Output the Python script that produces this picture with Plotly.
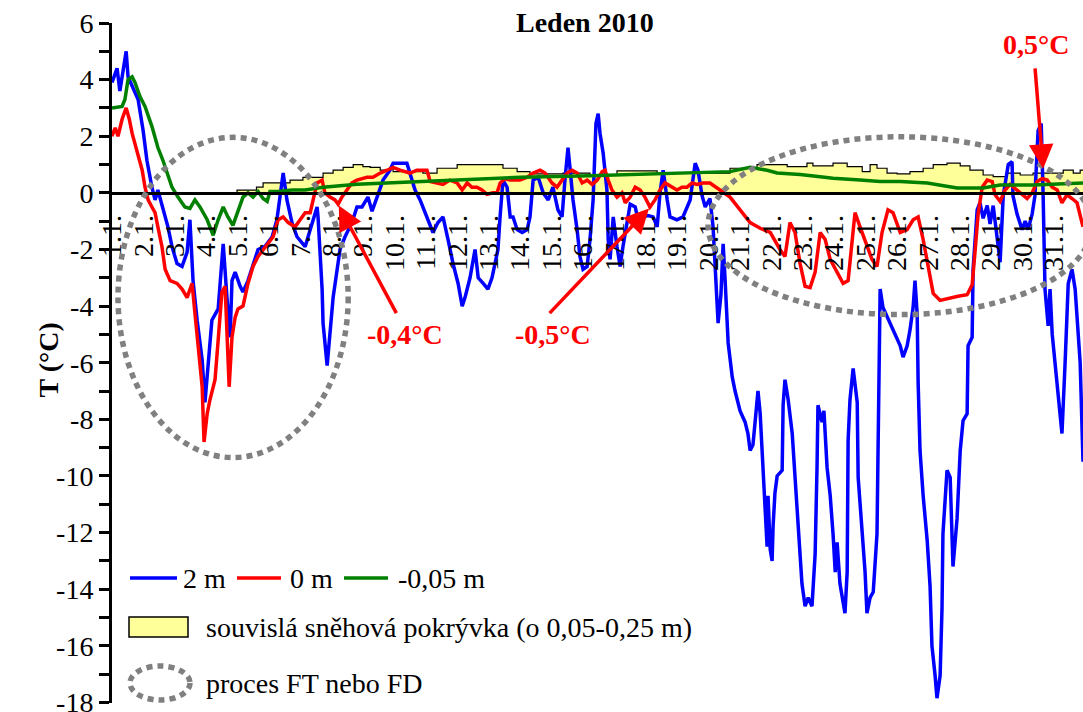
import plotly.graph_objects as go

# ---- Leden 2010: teplota na stanici, tři úrovně ----
# čas = den v měsíci (desetinně), teplota ve °C

t_2m = [1.00, 1.16, 1.25, 1.45, 1.51, 1.64, 1.83, 1.99, 2.11, 2.27, 2.37, 2.46, 2.62, 2.78, 2.91,
        3.07, 3.23, 3.39, 3.48, 3.58, 3.71, 3.87, 3.96, 4.18, 4.38, 4.54, 4.66, 4.76, 4.82, 4.92,
        5.08, 5.17, 5.33, 5.49, 5.65, 5.87, 6.10, 6.25, 6.35, 6.45, 6.57, 6.73, 6.89, 7.15, 7.31,
        7.53, 7.56, 7.69, 7.72, 7.85, 8.04, 8.26, 8.42, 8.64, 8.80, 8.96, 9.15, 9.28, 9.44, 9.63,
        9.85, 9.95, 10.39, 10.49, 10.65, 10.81, 11.03, 11.22, 11.38, 11.54, 11.70, 11.86, 12.02,
        12.15, 12.24, 12.40, 12.56, 12.66, 12.82, 12.97, 13.10, 13.20, 13.29, 13.36, 13.45, 13.58,
        13.68, 13.77, 13.90, 14.06, 14.22, 14.31, 14.41, 14.57, 14.73, 14.89, 15.04, 15.20, 15.33,
        15.43, 15.52, 15.59, 15.68, 15.81, 15.90, 16.00, 16.13, 16.22, 16.32, 16.41, 16.48, 16.54,
        16.64, 16.76, 16.80, 16.86, 16.96, 17.08, 17.18, 17.27, 17.40, 17.50, 17.66, 17.75, 17.91,
        18.07, 18.23, 18.36, 18.45, 18.55, 18.68, 18.77, 18.99, 19.18, 19.41, 19.57, 19.66, 19.79,
        19.89, 20.04, 20.14, 20.20, 20.27, 20.30, 20.39, 20.46, 20.52, 20.59, 20.62, 20.75, 20.84,
        21.00, 21.16, 21.25, 21.32, 21.41, 21.48, 21.57, 21.64, 21.70, 21.73, 21.80, 21.86, 21.89,
        21.96, 22.02, 22.05, 22.11, 22.18, 22.34, 22.37, 22.43, 22.53, 22.66, 22.75, 22.85, 22.97,
        23.07, 23.17, 23.29, 23.39, 23.45, 23.48, 23.61, 23.67, 23.77, 23.87, 23.96, 24.03, 24.09,
        24.18, 24.34, 24.41, 24.44, 24.50, 24.60, 24.73, 24.76, 24.89, 24.98, 25.04, 25.14, 25.24,
        25.36, 25.39, 25.46, 25.55, 25.78, 26.00, 26.10, 26.19, 26.32, 26.41, 26.51, 26.57, 26.64,
        26.67, 26.73, 26.83, 26.96, 27.05, 27.11, 27.21, 27.27, 27.37, 27.43, 27.46, 27.59, 27.69,
        27.78, 27.91, 28.01, 28.10, 28.23, 28.26, 28.39, 28.42, 28.55, 28.64, 28.74, 28.87, 28.96,
        29.06, 29.18, 29.28, 29.38, 29.54, 29.66, 29.69, 29.82, 29.98, 30.08, 30.17, 30.30, 30.39,
        30.49, 30.59, 30.65, 30.71, 30.81, 30.87, 30.94, 31.03, 31.13, 31.25, 31.35, 31.45, 31.57,
        31.67, 31.83, 31.92]
T_2m = [3.9, 4.4, 3.6, 5.0, 4.1, 3.75, 3.3, 2.2, 1.15, 0.2, -0.25, 0.1, -0.5, -1.2, -1.9,
        -2.5, -2.6, -2.1, -0.95, -3.1, -4.5, -5.9, -7.4, -4.5, -4.1, -1.8, -3.7, -5.1, -3.1, -2.8,
        -3.3, -3.5, -3.1, -2.5, -2.0, -1.9, -1.55, -0.95, 0.0, 0.7, -0.25, -1.05, -1.55, -1.9, -1.3,
        -0.5, -0.85, -3.4, -4.6, -6.1, -3.7, -2.0, -1.55, -1.05, -0.5, -0.5, -0.15, -0.65, -0.15, 0.45,
        0.8, 1.05, 1.05, 0.7, 0.1, -0.25, -0.85, -1.4, -1.05, -0.85, -1.65, -2.5, -3.2,
        -4.0, -3.7, -3.0, -2.0, -3.0, -3.2, -3.4, -3.0, -2.5, -2.0, -0.8, 0.45, 0.2,
        -0.85, -0.85, -1.3, -1.4, -1.3, -0.85, 0.45, 0.55, 0.0, -0.25, 0.2, -0.6, -0.85,
        0.55, 1.6, 0.8, -0.25, -1.3, -2.25, -2.7, -2.6, -1.65, -0.25, 2.45, 2.8, 2.1,
        1.4, 0.1, -1.65, -2.35, -0.85, -1.9, -2.6, -1.9, -0.95, -0.4, -0.5, -0.95, -0.85,
        -0.8, -0.85, -1.2, 0.0, 0.8, -0.25, -0.85, -0.95, -0.85, -0.25, 1.05, 0.8, -0.1,
        -0.5, -0.2, -1.2, -2.5, -3.8, -4.6, -3.6, -1.8, -3.0, -4.35, -5.3, -6.5, -7.0,
        -7.7, -8.1, -8.5, -9.1, -8.9, -7.95, -7.0, -7.8, -9.1, -10.2, -11.4, -12.5, -10.7,
        -12.6, -13.0, -11.8, -10.6, -10.0, -9.8, -7.5, -6.6, -7.3, -8.5, -10.1, -11.8, -13.8,
        -14.6, -14.3, -14.6, -12.75, -9.7, -7.5, -8.1, -7.7, -9.7, -10.7, -12.05, -13.4, -12.35,
        -13.8, -14.85, -13.4, -8.75, -7.3, -6.2, -7.4, -10.05, -12.05, -13.4, -14.85, -14.3, -14.1,
        -12.05, -9.4, -3.4, -4.05, -4.6, -5.1, -5.4, -5.8, -5.4, -4.85, -4.05, -3.1, -4.3,
        -6.7, -9.1, -10.7, -12.3, -13.9, -16.0, -17.05, -17.85, -17.05, -14.7, -12.05, -9.8, -10.05,
        -13.2, -11.5, -9.1, -8.05, -7.8, -5.4, -5.1, -2.7, -0.6, -0.35, -0.9, -0.45, -1.1,
        -0.45, -1.65, -2.45, -0.1, 1.0, 1.1, -0.1, -0.75, -1.3, -1.0, -1.3, -0.75, -0.1,
        2.2, 2.45, -0.05, -3.4, -4.7, -3.4, -5.0, -6.0, -7.0, -8.5, -6.0, -3.2, -2.7,
        -3.4, -6.0, -9.5]

t_0m = [1.00, 1.10, 1.19, 1.32, 1.45, 1.55, 1.64, 1.80, 1.96, 2.05, 2.15, 2.27, 2.37, 2.46, 2.59,
        2.69, 2.85, 3.07, 3.23, 3.39, 3.55, 3.64, 3.74, 3.87, 3.93, 4.03, 4.12, 4.28, 4.38, 4.50,
        4.60, 4.69, 4.73, 4.82, 4.92, 5.01, 5.17, 5.33, 5.49, 5.65, 5.81, 5.97, 6.13, 6.29, 6.45,
        6.61, 6.83, 6.99, 7.15, 7.31, 7.40, 7.53, 7.69, 7.78, 7.94, 8.10, 8.20, 8.32, 8.48, 8.64,
        8.80, 9.12, 9.31, 9.54, 9.76, 9.95, 10.17, 10.49, 10.71, 11.03, 11.13, 11.35, 11.54, 11.76,
        11.99, 12.15, 12.31, 12.46, 12.62, 12.78, 12.94, 13.13, 13.26, 13.36, 13.52, 13.68, 13.99,
        14.22, 14.41, 14.63, 14.79, 15.01, 15.17, 15.33, 15.49, 15.65, 15.81, 15.97, 16.13, 16.29,
        16.45, 16.61, 16.70, 16.80, 16.92, 17.08, 17.24, 17.34, 17.50, 17.66, 17.82, 17.97, 18.13,
        18.29, 18.45, 18.61, 18.83, 18.99, 19.15, 19.31, 19.47, 19.63, 19.82, 20.04, 20.36, 20.68,
        21.00, 21.32, 21.64, 21.96, 22.27, 22.43, 22.59, 22.75, 22.91, 23.07, 23.23, 23.39, 23.55,
        23.71, 23.87, 24.09, 24.28, 24.44, 24.66, 24.82, 25.04, 25.20, 25.36, 25.52, 25.71, 25.87,
        26.10, 26.32, 26.51, 26.67, 26.83, 26.99, 27.15, 27.37, 27.69, 27.94, 28.23, 28.39, 28.48,
        28.58, 28.71, 28.87, 29.03, 29.12, 29.28, 29.44, 29.60, 29.82, 29.98, 30.14, 30.30, 30.46,
        30.62, 30.78, 30.94, 31.10, 31.25, 31.41, 31.57, 31.73, 31.92]
T_0m = [2.0, 2.3, 2.0, 2.6, 3.0, 2.6, 2.1, 1.5, 0.8, 0.2, -0.25, -0.5, -0.7, -1.2, -1.9,
        -2.7, -3.1, -3.2, -3.4, -3.7, -3.2, -4.25, -5.4, -6.85, -8.8, -7.8, -7.3, -6.6, -5.2, -3.5,
        -3.3, -5.65, -6.85, -5.1, -4.4, -4.1, -4.0, -3.2, -2.6, -2.25, -2.0, -1.75, -1.55, -0.95, -0.85,
        -1.05, -1.2, -0.95, -0.7, -0.7, -0.25, 0.35, 0.45, 0.0, -0.15, -0.25, -0.4, -0.15, 0.1, 0.35,
        0.45, 0.55, 0.55, 0.7, 0.8, 0.9, 0.8, 0.7, 0.8, 0.8, 0.4, 0.35, 0.3, 0.45,
        0.35, 0.1, 0.35, 0.2, 0.2, 0.1, -0.05, 0.0, 0.0, 0.35, 0.5, 0.45, 0.45,
        0.55, 0.7, 0.8, 0.7, 0.35, 0.2, 0.45, 0.7, 0.8, 0.7, 0.35, 0.45, 0.3,
        0.45, 0.75, 0.8, 0.45, 0.1, -0.15, 0.0, -0.35, -0.15, 0.2, 0.1, -0.15, -0.5,
        -0.25, 0.1, 0.35, 0.2, 0.1, 0.2, 0.2, 0.35, 0.3, 0.35, 0.35, 0.1, -0.15,
        -0.6, -1.05, -1.25, -1.4, -2.0, -2.25, -1.05, -1.4, -2.5, -3.3, -3.35, -2.8, -1.4,
        -1.65, -2.35, -2.8, -3.2, -3.1, -0.7, -1.2, -1.9, -2.35, -2.6, -1.4, -0.6, -0.7,
        -1.4, -1.3, -0.95, -0.85, -1.65, -2.6, -3.55, -3.8, -3.7, -3.65, -3.6, -3.25, -2.1,
        -0.75, 0.2, 0.45, 0.4, -0.07, -0.3, 0.1, 0.3, 0.1, -0.07, -0.2, 0.0, 0.4,
        0.5, 0.45, 0.2, 0.1, -0.35, -0.07, -0.2, -0.35, -1.2]

t_m005 = [1.00, 1.32, 1.41, 1.51, 1.64, 1.73, 1.89, 2.05, 2.27, 2.46, 2.62, 2.75, 2.91, 3.10, 3.32,
          3.48, 3.64, 3.80, 4.03, 4.22, 4.38, 4.54, 4.69, 4.85, 5.01, 5.17, 5.33, 5.49, 5.65, 5.81,
          5.94, 6.03, 6.29, 6.73, 7.15, 7.72, 8.80, 9.85, 10.90, 11.99, 13.36, 14.00, 16.22, 18.00,
          19.73, 20.68, 21.32, 21.86, 22.18, 22.91, 23.55, 23.96, 24.82, 25.46, 26.10, 26.96, 27.91,
          28.74, 29.28, 30.33, 31.92]
T_m005 = [3.0, 3.05, 3.3, 4.0, 4.1, 3.9, 3.4, 3.05, 2.35, 1.6, 1.15, 0.7, 0.2, -0.15, -0.5,
          -0.55, -0.25, -0.5, -0.95, -1.5, -0.95, -0.5, -0.85, -1.15, -0.6, -0.15, 0.0, -0.15, 0.05, -0.2,
          -0.3, 0.05, 0.05, 0.1, 0.1, 0.2, 0.3, 0.35, 0.4, 0.45, 0.5, 0.55, 0.6, 0.65,
          0.7, 0.75, 0.9, 0.8, 0.7, 0.65, 0.57, 0.52, 0.45, 0.4, 0.4, 0.35, 0.17,
          0.17, 0.28, 0.28, 0.35]

# souvislá sněhová pokrývka (schodovitý průběh)
t_snih = [4.98, 4.98, 5.60, 5.81, 6.67, 7.08, 7.72, 8.04, 8.36, 8.68, 8.99, 9.22, 9.54, 9.85, 9.95,
          10.90, 11.35, 11.99, 13.45, 13.90, 14.31, 15.36, 16.22, 17.08, 18.36, 20.68, 21.54, 22.50,
          23.13, 23.32, 23.96, 24.41, 24.89, 25.14, 25.36, 25.68, 26.00, 26.41, 26.83, 27.15, 27.59,
          28.01, 28.32, 28.74, 29.06, 29.50, 29.92, 30.33, 31.29, 31.61, 31.83, 31.92]
h_snih = [0.0, 0.1, 0.2, 0.35, 0.45, 0.55, 0.7, 0.8, 0.9, 1.0, 0.93, 0.9, 0.8, 0.9, 0.75,
          0.7, 0.87, 1.0, 0.87, 0.75, 0.67, 0.7, 0.63, 0.78, 0.7, 0.87, 1.0, 0.93,
          1.05, 0.95, 1.05, 0.93, 0.75, 1.0, 0.87, 0.7, 0.67, 0.75, 0.87, 1.0, 1.05,
          0.95, 0.8, 0.63, 0.57, 0.7, 0.63, 0.7, 0.8, 0.7, 0.8, 0.8]

# popisky os
dny = list(range(1, 32))
popisky_dnu = [f"{d}.1." for d in dny]
y_hodnoty = list(range(-18, 7, 2))
y_popisky = [str(v) for v in y_hodnoty]          # spojovník místo typografického minus
y_vedlejsi = list(range(-17, 7, 2))

# oblasti procesu FT/FD (den od-do, teplota od-do)
oblasti = [(1.19, 8.52, -9.35, 1.96), (19.98, 32.2, -4.3, 1.98)]

# šipky: (hrot den, hrot T, konec den, konec T, text den, text T, text)
sipky = [(8.22, -0.45, 10.08, -4.3, 10.33, -5.0, "-0,4°C"),
         (18.10, -0.55, 14.89, -4.3, 15.04, -5.0, "-0,5°C"),
         (30.65, 0.85, 30.39, 4.45, 30.42, 5.25, "0,5°C")]

FONT = "Liberation Serif"
MODRA, CERVENA, ZELENA, SEDA, ZLUTA = "#0000FF", "#FF0000", "#008000", "#808080", "#FFFF99"

fig = go.Figure()
fig.add_trace(go.Scatter(x=t_snih, y=h_snih, mode="lines", line=dict(shape="hv", color="black", width=1.2),
                         fill="tozeroy", fillcolor=ZLUTA, hoverinfo="skip"))
fig.add_trace(go.Scatter(x=t_2m, y=T_2m, mode="lines", line=dict(color=MODRA, width=3.5), name="2 m"))
fig.add_trace(go.Scatter(x=t_0m, y=T_0m, mode="lines", line=dict(color=CERVENA, width=3.5), name="0 m"))
fig.add_trace(go.Scatter(x=t_m005, y=T_m005, mode="lines", line=dict(color=ZELENA, width=3.5), name="-0,05 m"))

for x0, x1, y0, y1 in oblasti:
    fig.add_shape(type="circle", xref="x", yref="y", x0=x0, x1=x1, y0=y0, y1=y1,
                  line=dict(color=SEDA, width=5.5, dash="6px,5px"), layer="above")

for xh, yh, xk, yk, xt, yt, txt in sipky:
    fig.add_annotation(x=xh, y=yh, ax=xk, ay=yk, xref="x", yref="y", axref="x", ayref="y",
                       text="", showarrow=True, arrowhead=2, arrowsize=1.4, arrowwidth=3.5,
                       arrowcolor=CERVENA)
    fig.add_annotation(x=xt, y=yt, xref="x", yref="y", text=f"<b>{txt}</b>", showarrow=False,
                       font=dict(family=FONT, size=28, color=CERVENA))

# plocha grafu: x 112..1083 px, y 23..703 px
W, H, L, T, B = 1083, 712, 112, 23, 9
PW, PH = W - L, H - T - B


def px(x):
    return (x - L) / PW


def py(y):
    return (H - B - y) / PH


# legenda
radek1 = 578
for x0, x1, barva, text, xt in [(130, 177, MODRA, "2 m", 181), (237, 281, CERVENA, "0 m", 288),
                                (344, 388, ZELENA, "-0,05 m", 396)]:
    fig.add_shape(type="line", xref="paper", yref="paper", x0=px(x0), x1=px(x1),
                  y0=py(radek1), y1=py(radek1), line=dict(color=barva, width=3.5))
    fig.add_annotation(x=px(xt), y=py(radek1), xref="paper", yref="paper", text=text, showarrow=False,
                       xanchor="left", yanchor="middle", font=dict(family=FONT, size=28, color="black"))
fig.add_shape(type="rect", xref="paper", yref="paper", x0=px(129), x1=px(188), y0=py(637), y1=py(617),
              fillcolor=ZLUTA, line=dict(color="black", width=1.5))
fig.add_annotation(x=px(204), y=py(627), xref="paper", yref="paper",
                   text="souvislá sněhová pokrývka (o 0,05-0,25 m)", showarrow=False,
                   xanchor="left", yanchor="middle", font=dict(family=FONT, size=28, color="black"))
fig.add_shape(type="circle", xref="paper", yref="paper", x0=px(130), x1=px(190), y0=py(700), y1=py(666),
              line=dict(color=SEDA, width=5.5, dash="6px,5px"))
fig.add_annotation(x=px(204), y=py(683), xref="paper", yref="paper", text="proces FT nebo FD",
                   showarrow=False, xanchor="left", yanchor="middle",
                   font=dict(family=FONT, size=28, color="black"))

# nadpis a popis osy y
fig.add_annotation(x=px(585), y=py(22), xref="paper", yref="paper", text="<b>Leden 2010</b>",
                   showarrow=False, yanchor="middle", font=dict(family=FONT, size=28, color="black"))
fig.add_annotation(x=px(30), y=py(360), xref="paper", yref="paper", text="<b>T (°C)</b>",
                   showarrow=False, textangle=-90, font=dict(family=FONT, size=28, color="black"))

Y_MIN, Y_MAX = -18.02, 6.0
fig.update_layout(
    width=W, height=H, margin=dict(l=L, r=0, t=T, b=B, autoexpand=False),
    paper_bgcolor="white", plot_bgcolor="white", showlegend=False,
    font=dict(family=FONT, size=28, color="black"),
    xaxis=dict(range=[0.999, 31.92], anchor="free", position=(0 - Y_MIN) / (Y_MAX - Y_MIN),
               showline=True, linecolor="black", linewidth=3, showgrid=False, zeroline=False, ticks="",
               tickmode="array", tickvals=dny, ticktext=popisky_dnu, tickangle=-90,
               ticklabelstandoff=9, ticklabeloverflow="allow", automargin=False,
               tickfont=dict(family=FONT, size=28, color="black")),
    yaxis=dict(range=[Y_MIN, Y_MAX], showline=True, linecolor="black", linewidth=3, showgrid=False,
               zeroline=False, ticks="outside", ticklen=10, tickwidth=2.5, tickcolor="black",
               tickmode="array", tickvals=y_hodnoty, ticktext=y_popisky, ticklabeloverflow="allow",
               automargin=False, tickfont=dict(family=FONT, size=28, color="black"),
               minor=dict(tickmode="array", tickvals=y_vedlejsi, ticks="outside", ticklen=10,
                          tickwidth=2.5, tickcolor="black", showgrid=False)),
)

fig.write_html("out.html")
